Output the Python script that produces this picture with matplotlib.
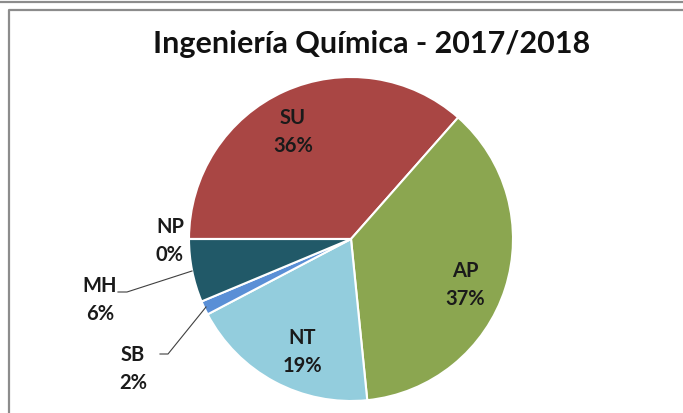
import matplotlib
matplotlib.use("Agg")
import matplotlib.pyplot as plt
from matplotlib.lines import Line2D

categories = ["SU", "AP", "NT", "SB", "MH", "NP"]
values = [36.5, 36.9, 18.9, 1.4, 6.3, 0.0]
pct_labels = ["36%", "37%", "19%", "2%", "6%", "0%"]
colors = ["#A94644", "#8BA650", "#93CDDD", "#5A8FD6", "#215968", "#7F7F7F"]
title = "Ingeniería Química - 2017/2018"

W, H = 683, 414
fig = plt.figure(figsize=(W / 100, H / 100), dpi=100)
fig.patch.set_facecolor("white")

# frame lines
fig.add_artist(Line2D([0, 1], [1 - 2.5 / H, 1 - 2.5 / H], color="#8C8C8C", lw=1.6))
fig.add_artist(Line2D([8.5 / W, 8.5 / W, 1], [0, 1 - 10.5 / H, 1 - 10.5 / H], color="#8C8C8C", lw=1.6))

ax = fig.add_axes([0, 0, 1, 1])
cx, cy, r = 351, H - 240, 162
ax.pie(values, colors=colors, startangle=180, counterclock=False,
       center=(cx, cy), radius=r, frame=True,
       wedgeprops=dict(edgecolor="white", linewidth=1.5))
ax.set_xlim(0, W)
ax.set_ylim(0, H)
ax.set_aspect("equal")
ax.axis("off")

fam = ["Lato", "DejaVu Sans"]
fs = 14.5
lbl_pos = {
    "SU": (293, 132),
    "AP": (465, 285),
    "NT": (302, 352),
    "SB": (133, 369),
    "MH": (100, 300),
    "NP": (170, 241),
}
for cat, pl in zip(categories, pct_labels):
    x, y = lbl_pos[cat]
    ax.text(x, H - y, f"{cat}\n{pl}", ha="center", va="center", fontsize=fs,
            fontweight="bold", family=fam, color="#1a1a1a", linespacing=1.55)

# leader lines
ax.plot([118, 127, 192], [H - 293, H - 293, H - 272], color="#404040", lw=0.8)
ax.plot([160, 168, 206], [H - 355, H - 355, H - 308], color="#404040", lw=0.8)

fig.text(372 / W, 1 - 44 / H, title, ha="center", va="center", fontsize=22.0,
         fontweight="bold", family=fam, color="#111111")

fig.savefig("out.png", dpi=100)
